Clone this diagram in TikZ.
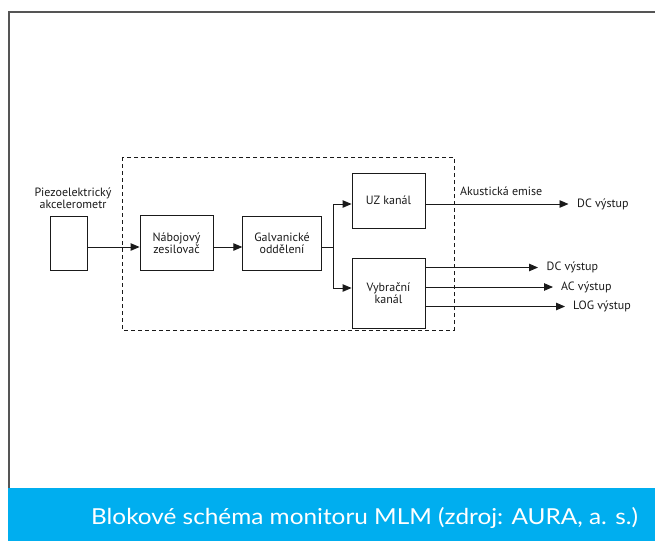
\documentclass[tikz,border=0pt]{standalone}
\usepackage{fontspec}
\setmainfont{PT Sans}
\newfontfamily\capfont[FakeStretch=1.107]{Lato}
\usetikzlibrary{arrows.meta,calc}
\definecolor{bandblue}{HTML}{00AEEF}
\definecolor{framegray}{HTML}{555555}
\definecolor{inkcol}{HTML}{1A1A1A}
\begin{document}
\begin{tikzpicture}[x=1pt,y=-1pt,
  blk/.style={draw=inkcol,line width=0.9pt,rectangle,inner sep=0pt,align=center,font=\fontsize{12}{12.5}\selectfont,text=inkcol},
  lbl/.style={inner sep=0pt,font=\fontsize{12}{12.5}\selectfont,text=inkcol},
  conn/.style={draw=inkcol,line width=0.9pt},
  arr/.style={conn,-{Triangle[length=9pt,width=7.5pt]}}]
\useasboundingbox (0,0) rectangle (655,541);
% frame and caption band
\draw[framegray,line width=1.4pt] (9,488) -- (9,12) -- (655,12);
\fill[bandblue] (8.3,488) rectangle (655,541);
\node[inner sep=0pt,anchor=base west,text=white,font=\capfont\fontsize{22}{24}\selectfont] (cap) at (91,524) {Blokové schéma monitoru MLM (zdroj: AURA, a. s.)};
% dashed enclosure
\draw[inkcol,line width=0.9pt,dash pattern=on 4pt off 3pt] (122,157) rectangle (454,330);
% blocks
\node[blk,minimum width=37pt,minimum height=54pt] (acc) at (68.5,243) {};
\node[lbl,align=center,anchor=south] (acclbl) at (73,209) {Piezoelektrický\\akcelerometr};
\node[blk,minimum width=73pt,minimum height=55pt] (nab) at (176.5,243) {Nábojový\\zesilovač};
\node[blk,minimum width=78.5pt,minimum height=54pt] (gal) at (282,243) {Galvanické\\oddělení};
\node[blk,minimum width=73pt,minimum height=55pt] (uz) at (388.5,200.5) {UZ kanál};
\node[blk,minimum width=73pt,minimum height=70pt] (vyb) at (388.5,293) {Vybrační\\kanál};
% output labels
\node[lbl,anchor=south west] (ae) at (460,196) {Akustická emise};
\node[lbl,anchor=west] (o1) at (577,204) {DC výstup};
\node[lbl,anchor=west] (o2) at (546.5,267.5) {DC výstup};
\node[lbl,anchor=west] (o3) at (561,287) {AC výstup};
\node[lbl,anchor=west] (o4) at (573,306.5) {LOG výstup};
\coordinate (split) at (333.5,247);
% connectors
\draw[arr] ([yshift=-4pt]acc.east) -- ([yshift=-4pt]nab.west);
\draw[arr] ([yshift=-4pt]nab.east) -- ([yshift=-4pt]gal.west);
\draw[conn] ([yshift=-4pt]gal.east) -- (split);
\draw[arr] (split) |- (uz.west |- o1.west);
\draw[arr] (split) |- ([yshift=5pt]vyb.west);
\draw[arr] (uz.east |- o1.west) -- ([xshift=-8.5pt]o1.west);
\draw[arr] (vyb.east |- o2.west) -- ([xshift=-8.5pt]o2.west);
\draw[arr] (vyb.east |- o3.west) -- ([xshift=-8pt]o3.west);
\draw[arr] (vyb.east |- o4.west) -- ([xshift=-8pt]o4.west);
\end{tikzpicture}
\end{document}
